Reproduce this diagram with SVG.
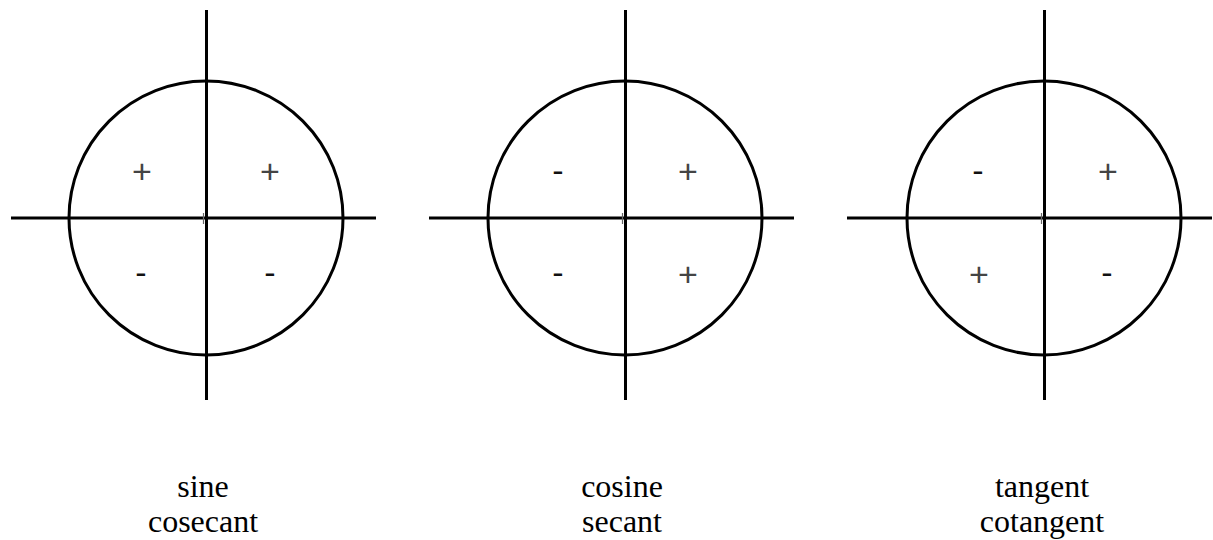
<svg xmlns="http://www.w3.org/2000/svg" width="1213" height="540" viewBox="0 0 1213 540">
<style>
.ax{stroke:#000;stroke-width:3;fill:none}
.c{stroke:#000;stroke-width:3;fill:none}
.tick{stroke:#666;stroke-width:1.2}
.s{font-family:"Liberation Sans",Arial,sans-serif;font-size:34px;text-anchor:middle}
.p{fill:#444}
.m{fill:#111}
.lbl{font-family:"Liberation Serif","Times New Roman",serif;font-size:32px;fill:#000;text-anchor:middle}
</style>
<rect width="1213" height="540" fill="#fff"/>
<g id="sine">
<circle class="c" cx="206" cy="218" r="137"/>
<line class="ax" x1="206.5" y1="10" x2="206.5" y2="400"/>
<line class="ax" x1="11" y1="218" x2="376" y2="218"/>
<line class="tick" x1="203.5" y1="213" x2="203.5" y2="224"/>
<text class="s p" x="142" y="183">+</text>
<text class="s p" x="270" y="183">+</text>
<text class="s m" x="141" y="284">-</text>
<text class="s m" x="270" y="284">-</text>
<text class="lbl" x="203" y="497">sine</text>
<text class="lbl" x="203" y="532">cosecant</text>
</g>
<g id="cosine">
<circle class="c" cx="625" cy="218" r="137"/>
<line class="ax" x1="625.5" y1="10" x2="625.5" y2="400"/>
<line class="ax" x1="429" y1="218" x2="794" y2="218"/>
<line class="tick" x1="622.5" y1="213" x2="622.5" y2="224"/>
<text class="s m" x="558" y="182">-</text>
<text class="s p" x="688" y="183">+</text>
<text class="s m" x="558" y="284">-</text>
<text class="s p" x="688" y="286">+</text>
<text class="lbl" x="622" y="497">cosine</text>
<text class="lbl" x="622" y="532">secant</text>
</g>
<g id="tangent">
<circle class="c" cx="1044" cy="218" r="137"/>
<line class="ax" x1="1044.5" y1="10" x2="1044.5" y2="400"/>
<line class="ax" x1="847" y1="218" x2="1212" y2="218"/>
<line class="tick" x1="1041.5" y1="213" x2="1041.5" y2="224"/>
<text class="s m" x="978" y="182">-</text>
<text class="s p" x="1108" y="183">+</text>
<text class="s p" x="979" y="286">+</text>
<text class="s m" x="1107" y="284">-</text>
<text class="lbl" x="1042" y="497">tangent</text>
<text class="lbl" x="1042" y="532">cotangent</text>
</g>
</svg>
